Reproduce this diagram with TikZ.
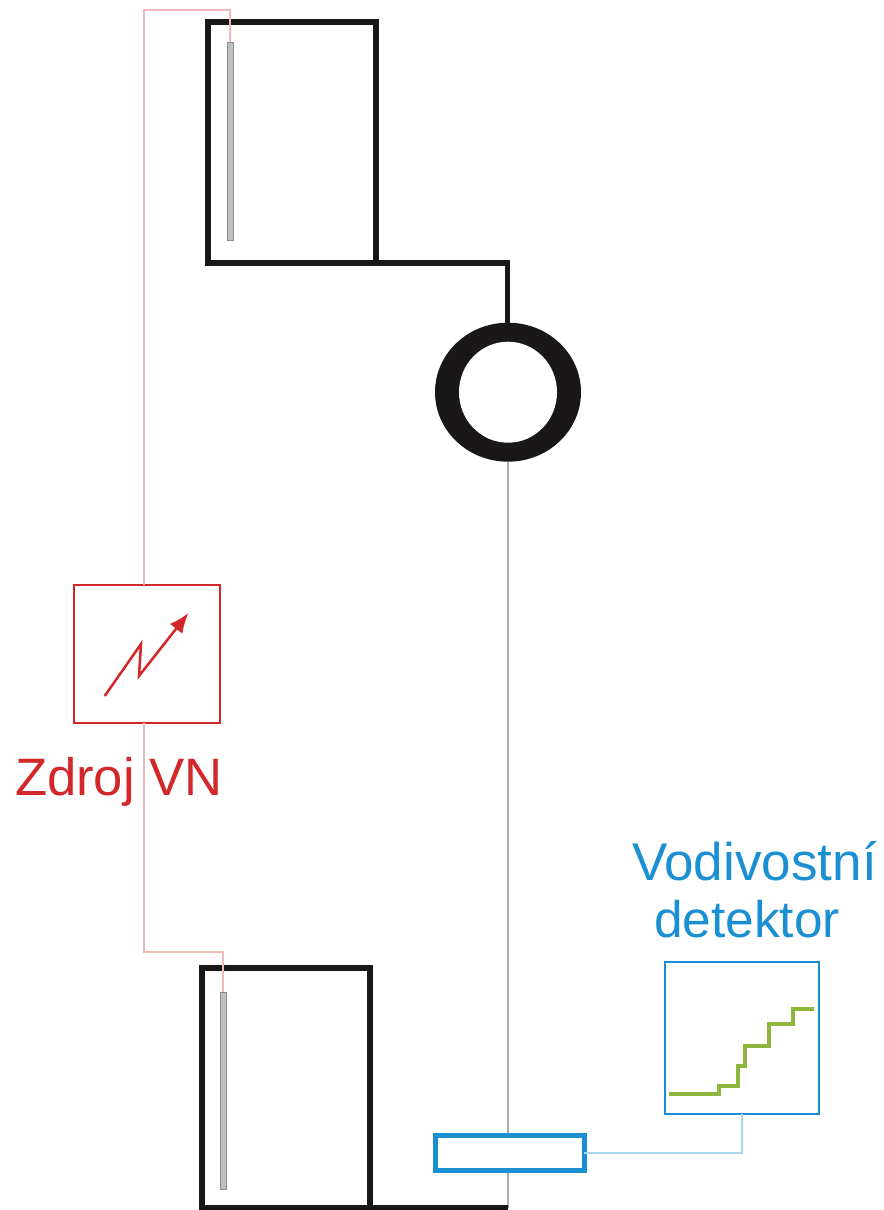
\documentclass[tikz,border=0pt]{standalone}
\usepackage{fontspec}
\setmainfont{Liberation Sans}
\usetikzlibrary{shapes.geometric,arrows.meta}
\definecolor{vnred}{HTML}{D2282A}
\definecolor{wirered}{HTML}{F0B8B8}
\definecolor{detblue}{HTML}{1A8FD2}
\definecolor{wireblue}{HTML}{A9D8EF}
\definecolor{stepgreen}{HTML}{8DB63C}
\definecolor{inkblack}{HTML}{1A1718}
\tikzset{
  x=0.75pt,y=-0.75pt,
  pxsize/.style 2 args={minimum width={#1*0.75pt},minimum height={#2*0.75pt}},
  every node/.style={inner sep=0pt,outer sep=0pt},
  chamber/.style={draw=inkblack,line width=4pt,fill=none},
  electrode/.style={draw=black!45,line width=0.4pt,fill=black!25},
  vnbox/.style={draw=vnred,line width=1.8pt},
  detbox/.style={draw=detblue,line width=1.8pt},
  cellbox/.style={draw=detblue,fill=white,line width=3.75pt},
  hvwire/.style={draw=wirered,line width=0.9pt},
  blackwire/.style={draw=inkblack,line width=4pt},
  greywire/.style={draw=black!32,line width=0.8pt},
  bluewire/.style={draw=wireblue,line width=0.9pt},
  steptrace/.style={draw=stepgreen,line width=2.4pt},
  vnlabel/.style={text=vnred,font=\fontsize{39.5pt}{46pt}\selectfont},
  detlabela/.style={text=detblue,font=\fontsize{39.8pt}{46pt}\selectfont},
  detlabelb/.style={text=detblue,font=\fontsize{38.6pt}{46pt}\selectfont},
}
\begin{document}
\begin{tikzpicture}
\useasboundingbox (0,0) rectangle (884,1210);
% chambers and electrodes
\node[chamber,pxsize={168}{241}] (top) at (292,142.5) {};
\node[chamber,pxsize={168}{240}] (bottom) at (286,1088) {};
\node[electrode,pxsize={6}{198}] (etop) at (230,141) {};
\node[electrode,pxsize={6}{197}] (ebot) at (223,1090.5) {};
% suppressor ring
\node[fill=inkblack,ellipse,pxsize={146}{139}] (ring) at (508,392.2) {};
\node[fill=white,ellipse,pxsize={98}{101}] (hole) at (508,392.2) {};
% source and detector boxes
\node[vnbox,pxsize={146}{138}] (hv) at (147,654) {};
\node[detbox,pxsize={154}{152}] (det) at (742,1038) {};
% connectors
\coordinate (tl) at (144,10);
\coordinate (bl) at (144,952);
\coordinate (tr) at (507.3,263);
\coordinate (br) at (508,1208);
\draw[greywire] (ring.south) -- (br);
\node[cellbox,pxsize={149}{35}] (cell) at (509.7,1153) {};
\draw[blackwire] (top.south east) -- (tr) -- (tr |- ring.north);
\draw[blackwire] (bottom.south east) -- (br);
\draw[hvwire] (etop.north) |- (tl) -- (tl |- hv.north);
\draw[hvwire] (tl |- hv.south) -- (bl) -| (ebot.north);
\draw[bluewire] (cell.east) -| (det.south);
% lightning arrow
\draw[draw=vnred,line width=1.9pt,-{Latex[length=15pt,width=12pt]}]
  (104.7,696) -- (141,644) -- (139,676) -- (188.5,613);
% step trace
\draw[steptrace] (669,1094) -- (719,1094) -- (719,1086) -- (738,1086) -- (738,1066)
  -- (745,1066) -- (745,1046) -- (769,1046) -- (769,1024) -- (793,1024) -- (793,1009) -- (814,1009);
% labels
\node[vnlabel,anchor=base west] (vnt) at (15,795) {Zdroj VN};
\node[detlabela,anchor=base west] (d1) at (632,880) {Vodivostní};
\node[detlabelb,anchor=base west] (d2) at (654,937) {detektor};
\end{tikzpicture}
\end{document}
